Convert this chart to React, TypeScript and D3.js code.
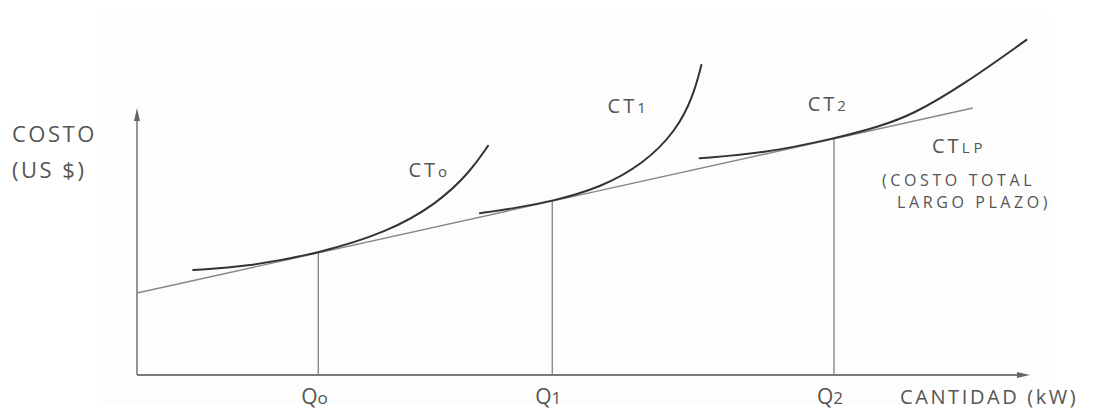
import React from "react";
import * as d3 from "d3";

type P = [number, number];

const ct0: P[] = [[6.3, 39.3], [12.3, 40.6], [20.3, 45.5], [28.0, 53.4], [33.6, 64.1], [37.3, 76.0], [39.3, 85.8]];
const ct1: P[] = [[38.4, 60.6], [42.5, 62.6], [46.5, 65.1], [51.8, 70.0], [56.7, 79.0], [60.4, 91.5], [62.3, 104.5], [63.2, 116.1]];
const ct2: P[] = [[63.0, 81.2], [70.1, 83.0], [78.05, 88.5], [83.2, 93.1], [86.9, 97.6], [92.5, 108.6], [99.6, 125.5]];
const ctlp: P[] = [[0, 30.7], [93.6, 100]];
const qValues = [20.3, 46.5, 78.05];
const qLabels = [["Q", "o"], ["Q", "1"], ["Q", "2"]];
const curveLabels = [
  { main: "CT", sub: "o", x: 30.4, y: 74 },
  { main: "CT", sub: "1", x: 52.7, y: 98 },
  { main: "CT", sub: "2", x: 75.1, y: 99 },
];

const W = 1097, H = 410;

export default function App() {
  const x = d3.scaleLinear().domain([0, 100]).range([137, 1030]);
  const y = d3.scaleLinear().domain([0, 100]).range([375, 108]);
  const line = d3.line<P>().x(d => x(d[0])).y(d => y(d[1])).curve(d3.curveBasis);
  const straight = d3.line<P>().x(d => x(d[0])).y(d => y(d[1]));
  const font = "'Open Sans', 'DejaVu Sans', sans-serif";
  const tc = "#555";
  const x0 = x(0), y0 = y(0);
  const xEnd = x(100), yTop = y(100);
  return (
    <svg width={W} height={H} style={{ position: "absolute", left: 0, top: 0, background: "#fff" }}>
      <rect x={102} y={11} width={947} height={393} fill="#fdfdfd" />
      {/* axes */}
      <line x1={x0} y1={y0} x2={x0} y2={yTop + 4} stroke="#7a7a7a" strokeWidth={1.6} />
      <path d={`M${x0},${yTop} L${x0 - 3},${yTop + 13} L${x0 + 3},${yTop + 13} Z`} fill="#666" />
      <line x1={x0} y1={y0} x2={xEnd - 4} y2={y0} stroke="#7a7a7a" strokeWidth={1.8} />
      <path d={`M${xEnd},${y0} L${xEnd - 13},${y0 - 3} L${xEnd - 13},${y0 + 3} Z`} fill="#666" />
      {/* long-run line */}
      <path d={straight(ctlp)!} fill="none" stroke="#888" strokeWidth={1.4} />
      {/* verticals */}
      {qValues.map((q, i) => {
        const yl = 30.7 + (69.3 / 93.6) * q;
        return <line key={i} x1={x(q)} x2={x(q)} y1={y0} y2={y(yl)} stroke="#777" strokeWidth={1.2} />;
      })}
      {/* short-run curves */}
      {[ct0, ct1, ct2].map((c, i) => (
        <path key={i} d={line(c)!} fill="none" stroke="#333" strokeWidth={2} strokeLinecap="round" />
      ))}
      {/* labels */}
      <g fontFamily={font} fill={tc}>
        <text x={12} y={142} fontSize={22} letterSpacing={2.5}>COSTO</text>
        <text x={12} y={178} fontSize={22} letterSpacing={2.5}>(US $)</text>
        {qValues.map((q, i) => (
          <text key={i} x={x(q) - 17} y={404} fontSize={21}>
            {qLabels[i][0]}
            <tspan fontSize={17}>{qLabels[i][1]}</tspan>
          </text>
        ))}
        <text x={900} y={404} fontSize={20} letterSpacing={2.6}>CANTIDAD (kW)</text>
        {curveLabels.map((l, i) => (
          <text key={i} x={x(l.x)} y={y(l.y)} fontSize={20} letterSpacing={3}>
            {l.main}
            <tspan fontSize={15}>{l.sub}</tspan>
          </text>
        ))}
        <text x={932} y={153} fontSize={20} letterSpacing={3}>
          CT<tspan fontSize={15} letterSpacing={4}>LP</tspan>
        </text>
        <text x={882} y={186} fontSize={16} letterSpacing={3.6}>(COSTO TOTAL</text>
        <text x={897} y={208} fontSize={16} letterSpacing={3.6}>LARGO PLAZO)</text>
      </g>
    </svg>
  );
}
